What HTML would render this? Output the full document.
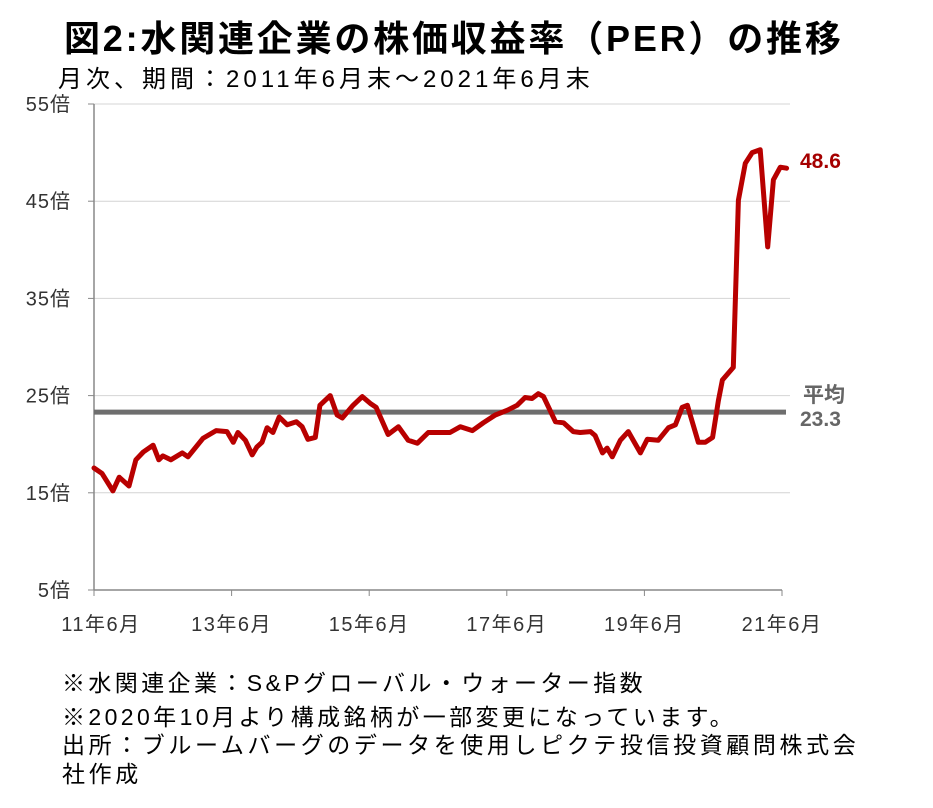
<!DOCTYPE html>
<html><head><meta charset="utf-8"><style>
body{margin:0;background:#fff;width:933px;height:808px;overflow:hidden;font-family:"Liberation Sans","Noto Sans CJK JP",sans-serif;}
.t{position:absolute;white-space:nowrap;color:#000;}
</style></head><body>
<div class="t" style="left:64px;top:10px;font-size:36px;font-weight:bold;letter-spacing:2.8px;">図2:水関連企業の株価収益率（PER）の推移</div>
<div class="t" style="left:58px;top:59px;font-size:24px;letter-spacing:4px;">月次、期間：2011年6月末～2021年6月末</div>
<svg id="chart" width="933" height="808" style="position:absolute;left:0;top:0" xmlns="http://www.w3.org/2000/svg"></svg>
<div class="t" style="left:62px;top:664px;font-size:23px;letter-spacing:3.4px;">※水関連企業：S&amp;Pグローバル・ウォーター指数</div>
<div class="t" style="left:62px;top:698px;font-size:23px;letter-spacing:3.4px;">※2020年10月より構成銘柄が一部変更になっています。</div>
<div class="t" style="left:62px;top:731px;font-size:23px;line-height:29px;letter-spacing:3.6px;">出所：ブルームバーグのデータを使用しピクテ投信投資顧問株式会<br>社作成</div>
<script>
const months=[0,1.4,3.3,4.4,6.1,7.3,8.6,10.3,11.3,12,13.4,15.4,16.4,19,21.3,23.2,24.3,25.1,26.4,27.6,28.4,29.3,30.2,31.2,32.3,33.7,35.3,36.3,37.3,38.6,39.4,41.2,42.4,43.3,45.2,46.8,48.2,49.2,51.3,53.1,54.8,56.4,58.3,62.1,63.9,66,67.9,70,72.1,73.8,75.2,76.4,77.5,78.4,80.5,81.9,83.6,84.8,86.6,87.4,88.7,89.5,90.4,91.8,93.2,95.3,96.5,98.4,100.2,101.4,102.6,103.5,105.4,106.6,107.9,108.9,109.6,111.5,112.4,113.6,114.8,116.2,117.5,118.5,119.7,120.8];
const perValues=[17.55,17.0,15.2,16.6,15.7,18.4,19.2,19.9,18.4,18.8,18.4,19.1,18.7,20.6,21.4,21.3,20.2,21.2,20.4,18.9,19.7,20.2,21.7,21.2,22.8,22.0,22.3,21.8,20.5,20.7,24.0,25.0,23.0,22.7,24.0,24.9,24.2,23.8,21.0,21.8,20.4,20.1,21.2,21.2,21.8,21.4,22.2,23.0,23.5,24.0,24.8,24.7,25.2,24.9,22.3,22.2,21.3,21.2,21.3,20.9,19.1,19.6,18.7,20.4,21.3,19.1,20.5,20.4,21.7,22.0,23.8,24.0,20.2,20.2,20.7,24.5,26.6,27.9,45.1,48.9,50.0,50.3,40.3,47.2,48.5,48.4];
const yTicks=[5,15,25,35,45,55];
const xTickMonths=[0,24,48,72,96,120];
const xTickLabels=["11年6月","13年6月","15年6月","17年6月","19年6月","21年6月"];
const average=[23.3];
const latest=[48.6];
const NS="http://www.w3.org/2000/svg";
const svg=document.getElementById('chart');
const X0=94,X1=782,Y0=590,Y1=104;
const xs=m=>X0+(m/120)*(X1-X0);
const ys=v=>Y0-(v-5)/50*(Y0-Y1);
function el(t,a){const e=document.createElementNS(NS,t);for(const k in a)e.setAttribute(k,a[k]);svg.appendChild(e);return e;}
yTicks.forEach((v,i)=>{
 if(v>5){const g=el('line',{x1:X0,x2:X1+8,y1:ys(v),y2:ys(v),stroke:'#d4d4d4','stroke-width':1});
 
 }
 const tk=el('line',{x1:X0-6,x2:X0,y1:ys(v),y2:ys(v),stroke:'#888','stroke-width':1});
 
 
 const t=el('text',{x:71,y:ys(v)+7,'text-anchor':'end','font-size':20,fill:'#333','letter-spacing':1,'font-family':'Liberation Sans, Noto Sans CJK JP, sans-serif'});
 t.textContent=v+'倍';
 
 
});
const ya=el('line',{x1:X0,x2:X0,y1:Y1,y2:Y0,stroke:'#888','stroke-width':1.5});


const xa=el('line',{x1:X0,x2:X1,y1:Y0,y2:Y0,stroke:'#888','stroke-width':1.5});


xTickMonths.forEach((m,i)=>{
 const tk=el('line',{x1:xs(m),x2:xs(m),y1:Y0,y2:Y0+6,stroke:'#888','stroke-width':1});
 
 
 const t=el('text',{x:xs(m)+(i==0?7:0),y:631,'text-anchor':'middle','font-size':20,fill:'#333','letter-spacing':1.5,'font-family':'Liberation Sans, Noto Sans CJK JP, sans-serif'});
 t.textContent=xTickLabels[i];
 
 
});
const av=el('line',{x1:X0,x2:X1+4,y1:ys(average[0]),y2:ys(average[0]),stroke:'#6e6e6e','stroke-width':5});


const d=months.map((m,i)=>(i?'L':'M')+xs(m).toFixed(1)+','+ys(perValues[i]).toFixed(1)).join(' ');
const p=el('path',{d:d,fill:'none',stroke:'#b80000','stroke-width':5,'stroke-linejoin':'round','stroke-linecap':'round'});


const a1=el('text',{x:803,y:ys(average[0])-10,'font-size':21,'font-weight':'bold',fill:'#666','font-family':'Liberation Sans, Noto Sans CJK JP, sans-serif'});
a1.textContent='平均';


const a2=el('text',{x:800,y:ys(average[0])+14,'font-size':21,'font-weight':'bold',fill:'#666','font-family':'Liberation Sans, sans-serif'});
a2.textContent=average[0].toFixed(1);


const l=el('text',{x:800,y:168,'font-size':21,'font-weight':'bold',fill:'#a50000','font-family':'Liberation Sans, sans-serif'});
l.textContent=latest[0].toFixed(1);


</script>
</body></html>
